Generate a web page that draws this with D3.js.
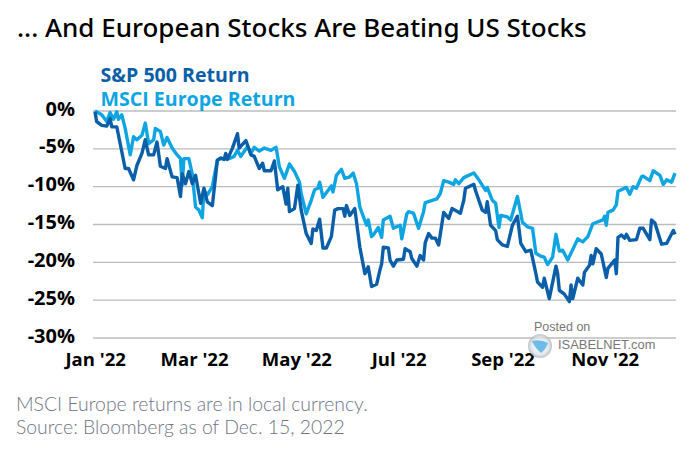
<!DOCTYPE html>
<html><head><meta charset="utf-8">
<script src="https://cdnjs.cloudflare.com/ajax/libs/d3/7.8.5/d3.min.js"></script>
<style>html,body{margin:0;padding:0;background:#fff}svg{display:block}
.tick line,.domain{display:none}</style></head><body>
<svg id="c" width="700" height="450"></svg>
<script>
const title = "... And European Stocks Are Beating US Stocks";
const seriesNames = ["S&P 500 Return", "MSCI Europe Return"];
const footnotes = ["MSCI Europe returns are in local currency.", "Source: Bloomberg as of Dec. 15, 2022"];
const yTicks = [0, -5, -10, -15, -20, -25, -30];
const xTickDays = [-2, 57, 118, 179, 241, 302];   // days after Jan 3 2022
const xTickLabels = ["Jan '22", "Mar '22", "May '22", "Jul '22", "Sep '22", "Nov '22"];

const spDays = [0,1,4,7,9,10,13,15,18,20,23,25,28,30,32,35,37,39,42,43,46,49,51,52,54,56,58,60,63,65,67,70,73,75,77,78,79,82,85,86,90,93,95,98,100,101,105,107,109,112,114,115,116,119,121,123,126,129,130,132,134,136,138,141,143,145,148,149,150,152,155,158,161,163,165,168,170,171,172,175,176,178,180,184,185,188,189,192,194,196,197,199,201,203,205,208,211,213,218,220,221,226,227,231,233,234,236,239,240,243,246,249,252,254,257,260,263,264,267,268,271,275,276,277,280,283,284,285,288,291,292,295,296,297,299,302,305,306,310,311,312,314,316,317,319,323,325,327,331,332,334,338,341,345,346];
const spValues = [-0.1,-1.4,-1.9,-2.0,-1.0,-2.1,-2.1,-4.3,-7.6,-7.6,-9.1,-7.2,-5.6,-3.8,-5.8,-5.8,-4.1,-7.3,-7.6,-6.3,-8.7,-8.8,-11.3,-8.3,-9.6,-8.0,-9.6,-8.5,-12.2,-10.2,-12.0,-12.5,-6.5,-6.2,-6.4,-5.6,-6.4,-4.9,-3.0,-4.9,-3.9,-5.8,-6.0,-7.6,-6.9,-7.9,-7.9,-6.6,-10.4,-10.0,-12.3,-10.2,-13.3,-12.9,-9.8,-13.1,-16.2,-17.5,-15.6,-15.8,-14.3,-18.1,-18.1,-16.6,-13.1,-12.9,-12.9,-13.9,-12.5,-13.8,-12.9,-18.0,-21.5,-20.6,-23.2,-22.9,-21.0,-20.2,-18.0,-18.1,-19.7,-20.5,-19.7,-19.6,-18.2,-18.6,-19.5,-20.5,-19.1,-19.7,-17.4,-16.2,-16.8,-16.8,-17.7,-13.4,-14.2,-12.9,-13.5,-11.8,-10.2,-9.7,-10.5,-13.1,-13.4,-12.0,-15.1,-15.8,-17.0,-17.7,-17.9,-15.1,-13.9,-17.5,-18.6,-18.4,-21.5,-22.6,-23.3,-22.1,-24.8,-20.5,-21.5,-23.7,-24.2,-25.2,-23.0,-24.8,-22.1,-23.0,-21.3,-20.4,-19.1,-20.2,-18.2,-18.9,-22.0,-20.8,-19.7,-21.5,-16.7,-16.4,-16.8,-16.3,-17.1,-17.0,-15.5,-15.5,-17.0,-14.4,-14.8,-17.6,-17.5,-15.8,-16.3];

const euDays = [0,4,7,9,11,13,14,16,18,21,23,25,28,30,32,35,36,39,41,43,46,49,51,52,53,56,58,60,62,64,65,67,70,73,75,80,83,85,87,91,93,95,98,101,105,108,110,113,116,119,122,123,126,129,131,133,134,136,139,141,142,144,147,149,152,154,156,158,162,163,165,166,169,171,172,176,178,182,183,186,187,190,193,196,197,204,206,208,211,214,215,217,220,226,229,233,234,237,239,241,242,246,248,252,255,258,261,263,266,268,270,273,275,277,279,282,288,291,294,297,303,304,305,306,309,311,312,317,319,321,323,326,327,331,333,337,339,341,344,346];
const euValues = [0.0,-0.5,-1.4,-0.2,-1.1,-0.1,-1.1,-0.5,-2.3,-5.8,-3.4,-3.8,-3.2,-1.6,-4.3,-3.8,-2.3,-2.7,-4.5,-3.5,-4.9,-5.8,-6.3,-9.8,-6.3,-6.3,-8.3,-12.7,-13.1,-14.1,-10.5,-11.1,-10.0,-6.5,-6.3,-6.3,-6.0,-5.2,-6.0,-4.7,-5.6,-4.8,-5.3,-4.9,-5.2,-4.8,-7.4,-8.9,-7.0,-8.0,-9.4,-10.9,-13.6,-11.8,-10.4,-10.2,-9.4,-11.4,-10.5,-9.9,-10.7,-8.5,-7.7,-8.9,-8.7,-8.2,-9.6,-12.7,-15.1,-14.4,-16.6,-16.4,-15.4,-16.7,-14.4,-13.9,-15.5,-15.1,-16.9,-13.6,-13.3,-13.5,-15.5,-13.3,-12.1,-11.6,-10.9,-9.2,-9.4,-9.7,-9.1,-9.6,-8.8,-8.2,-9.1,-10.5,-10.1,-11.8,-12.2,-15.4,-13.8,-14.0,-14.4,-11.3,-14.7,-15.3,-15.5,-18.8,-19.2,-19.3,-20.3,-19.3,-16.3,-18.5,-18.4,-19.7,-16.9,-17.3,-16.6,-14.9,-14.4,-13.9,-15.1,-13.4,-13.1,-12.4,-10.6,-10.1,-11.0,-10.0,-10.2,-8.7,-8.6,-9.2,-7.9,-8.5,-9.7,-9.1,-9.4,-8.2];

const darkBlue = "#0a5fa8", lightBlue = "#0fa5e3", gridCol = "#bcbcbc";
const svg = d3.select("#c");
const x = d3.scaleLinear().domain([0, 346]).range([95, 675]);
const y = d3.scaleLinear().domain([0, -30]).range([111, 338]);

svg.append("text").text(title).attr("x", 17).attr("y", 37)
  .attr("font-family", "'Noto Sans'").attr("font-weight", 500).attr("font-size", 26).attr("fill", "#000");

const gy = svg.append("g").attr("transform", "translate(93,0)")
  .call(d3.axisLeft(y).tickValues(yTicks).tickFormat(d => d + "%").tickSize(0).tickPadding(18));
gy.selectAll("text").attr("font-family", "'Open Sans'").attr("font-weight", 700)
  .attr("font-size", 20).attr("fill", "#000").attr("dy", "0.2em");
yTicks.forEach(t => svg.append("line").attr("x1", 93).attr("x2", 676)
  .attr("y1", y(t)).attr("y2", y(t)).attr("stroke", gridCol).attr("stroke-width", 1.4));

const gx = svg.append("g").attr("transform", "translate(3.5,338)")
  .call(d3.axisBottom(x).tickValues(xTickDays).tickFormat((d, i) => xTickLabels[i]).tickSize(0).tickPadding(14.5));
gx.selectAll("text").attr("font-family", "'Open Sans'").attr("font-weight", 700)
  .attr("font-size", 18.5).attr("fill", "#000");

const line = d3.line().x(d => x(d[0])).y(d => y(d[1])).curve(d3.curveLinear);
svg.append("path").datum(d3.zip(euDays, euValues)).attr("d", line).attr("fill", "none")
  .attr("stroke", lightBlue).attr("stroke-width", 3.4).attr("stroke-linejoin", "round");
svg.append("path").datum(d3.zip(spDays, spValues)).attr("d", line).attr("fill", "none")
  .attr("stroke", darkBlue).attr("stroke-width", 3.4).attr("stroke-linejoin", "round");

[darkBlue, lightBlue].forEach((c, i) => svg.append("text").text(seriesNames[i])
  .attr("x", 100.5).attr("y", 82 + i * 24).attr("font-family", "'Open Sans'")
  .attr("font-weight", 700).attr("font-size", 19.6).attr("fill", c));

footnotes.forEach((t, i) => svg.append("text").text(t).attr("x", 16).attr("y", 411 + i * 23)
  .attr("font-family", "Lato").attr("font-weight", 300).attr("font-size", 19.4).attr("fill", "#6f7486"));

const defs = svg.append("defs");
const g = defs.append("radialGradient").attr("id", "globe");
g.append("stop").attr("offset", "0%").attr("stop-color", "#fff");
g.append("stop").attr("offset", "70%").attr("stop-color", "#dfe5ea");
g.append("stop").attr("offset", "100%").attr("stop-color", "#aab4bd");
svg.append("circle").attr("cx", 540).attr("cy", 346).attr("r", 12).attr("fill", "url(#globe)").attr("opacity", .8);
svg.append("path").attr("d", "M532 341 Q540 339 548 343 Q546 349 541 353 Q535 348 532 341Z").attr("fill", "#6dbbe8");
svg.append("text").text("Posted on").attr("x", 534).attr("y", 331)
  .attr("font-family", "'Liberation Sans'").attr("font-size", 12.5).attr("fill", "#777");
svg.append("text").text("ISABELNET.com").attr("x", 558).attr("y", 349)
  .attr("font-family", "'Liberation Sans'").attr("font-size", 12.9).attr("fill", "#777");
</script></body></html>
